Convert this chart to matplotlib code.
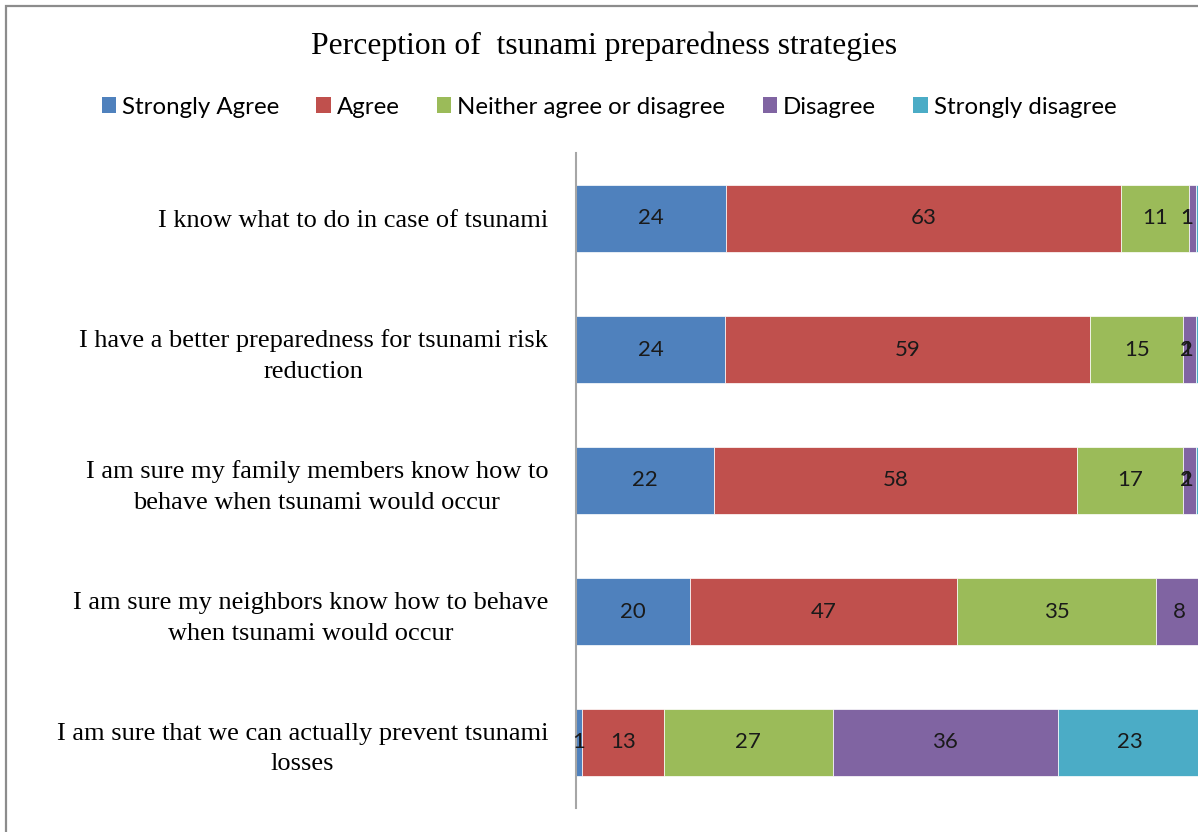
import numpy as np
import matplotlib.pyplot as plt
from matplotlib.patches import Rectangle, Patch

statements = [
    "I know what to do in case of tsunami",
    "I have a better preparedness for tsunami risk\nreduction",
    "I am sure my family members know how to\nbehave when tsunami would occur",
    "I am sure my neighbors know how to behave\nwhen tsunami would occur",
    "I am sure that we can actually prevent tsunami\nlosses",
]
responses = ["Strongly Agree", "Agree", "Neither agree or disagree",
             "Disagree", "Strongly disagree"]

strongly_agree = [24, 24, 22, 20, 1]
agree = [63, 59, 58, 47, 13]
neither = [11, 15, 17, 35, 27]
disagree = [1, 2, 2, 8, 36]
strongly_disagree = [1, 1, 1, 0, 23]

colors = ["#4F81BD", "#C0504D", "#9BBB59", "#8064A2", "#4BACC6"]

serif = "Liberation Serif"
sans = "Lato"

counts = np.array([strongly_agree, agree, neither, disagree, strongly_disagree], dtype=float)
shares = counts / counts.sum(axis=0) * 100  # 100% stacked

fig = plt.figure(figsize=(11.98, 8.32), dpi=100)

# outer chart border (the chart continues past the right and bottom edges)
fig.patches.append(Rectangle((6 / 1198, -0.05), 1.1, 1 - 6 / 832 + 0.05,
                             transform=fig.transFigure, fill=False,
                             edgecolor="#8c8c8c", linewidth=1.6))

ax = fig.add_axes([576 / 1198, 24 / 832, 626 / 1198, 655 / 832])
y = np.arange(len(statements))
left = np.zeros(len(statements))
for i, name in enumerate(responses):
    ax.barh(y, shares[i], left=left, height=0.51, color=colors[i],
            edgecolor="white", linewidth=0.5, label=name)
    for j in range(len(statements)):
        if counts[i, j] <= 0:
            continue
        cx = min(left[j] + shares[i, j] / 2, 97.5)
        ax.text(cx, y[j], f"{int(counts[i, j])}", ha="center", va="center",
                fontsize=16, family=sans, color="#1a1a1a")
    left += shares[i]

ax.set_xlim(0, 100)
ax.set_ylim(len(statements) - 0.5, -0.5)
ax.set_yticks(y)
ax.set_yticklabels(statements, family=serif, fontsize=19, multialignment="center",
                   linespacing=1.5)
ax.tick_params(axis="y", length=0, pad=20)
ax.set_xticks([])
for side in ["top", "right", "bottom"]:
    ax.spines[side].set_visible(False)
ax.spines["left"].set_color("#a6a6a6")
ax.spines["left"].set_linewidth(1.5)

fig.text(604 / 1198, 1 - 46 / 832, "Perception of  tsunami preparedness strategies",
         ha="center", va="center", family=serif, fontsize=22.8)

handles = [Patch(facecolor=c, edgecolor="none") for c in colors]
fig.legend(handles, responses, loc="center", bbox_to_anchor=(609 / 1198, 1 - 107 / 832),
           ncol=5, frameon=False, prop={"family": sans, "size": 17.3},
           handlelength=0.6, handleheight=0.6, handletextpad=0.25, columnspacing=1.55)

fig.savefig("out.png", dpi=100)
